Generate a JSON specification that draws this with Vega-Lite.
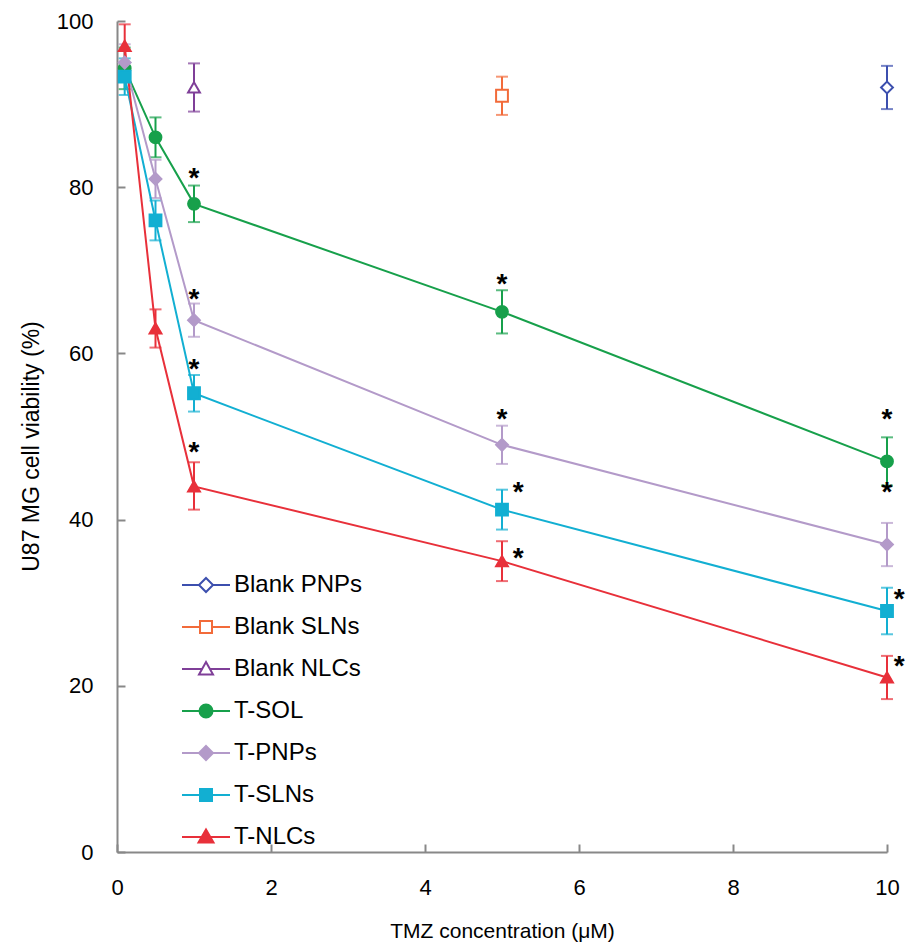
{
  "$schema": "https://vega.github.io/schema/vega-lite/v6.json",
  "width": 770,
  "height": 831,
  "autosize": {"type": "none"},
  "padding": {"left": 117, "top": 21, "right": 28, "bottom": 94},
  "background": "white",
  "config": {
    "view": {"stroke": null},
    "font": "Liberation Sans",
    "axis": {
      "grid": false,
      "domainColor": "#888888",
      "domainWidth": 2,
      "tickColor": "#888888",
      "tickWidth": 2,
      "tickSize": -8,
      "labelFont": "Liberation Sans",
      "labelFontSize": 22,
      "labelColor": "#000000",
      "labelFlush": false,
      "labelOverlap": false,
      "format": "d",
      "titleFont": "Liberation Sans",
      "titleFontSize": 21,
      "titleFontWeight": "normal",
      "titleColor": "#000000"
    },
    "axisX": {"labelPadding": 33, "titlePadding": 22},
    "axisY": {"labelPadding": 32, "titleFontSize": 23, "titleY": 425, "titleX": -74}
  },
  "datasets": {
    "pts": [
      {"series": "Blank PNPs", "x": 10, "y": 92, "lo": 89.4, "hi": 94.6},
      {"series": "Blank SLNs", "x": 5, "y": 91, "lo": 88.7, "hi": 93.3},
      {"series": "Blank NLCs", "x": 1, "y": 92, "lo": 89.1, "hi": 94.9},
      {"series": "T-SOL", "x": 0.1, "y": 94.3, "lo": 91.8, "hi": 96.8},
      {"series": "T-SOL", "x": 0.5, "y": 86, "lo": 83.6, "hi": 88.4},
      {"series": "T-SOL", "x": 1, "y": 78, "lo": 75.8, "hi": 80.2},
      {"series": "T-SOL", "x": 5, "y": 65, "lo": 62.4, "hi": 67.6},
      {"series": "T-SOL", "x": 10, "y": 47, "lo": 44.1, "hi": 49.9},
      {"series": "T-PNPs", "x": 0.1, "y": 95, "lo": 92.8, "hi": 97.2},
      {"series": "T-PNPs", "x": 0.5, "y": 81, "lo": 78.7, "hi": 83.3},
      {"series": "T-PNPs", "x": 1, "y": 64, "lo": 62, "hi": 66},
      {"series": "T-PNPs", "x": 5, "y": 49, "lo": 46.7, "hi": 51.3},
      {"series": "T-PNPs", "x": 10, "y": 37, "lo": 34.4, "hi": 39.6},
      {"series": "T-SLNs", "x": 0.1, "y": 93.3, "lo": 91.1, "hi": 95.5},
      {"series": "T-SLNs", "x": 0.5, "y": 76, "lo": 73.6, "hi": 78.4},
      {"series": "T-SLNs", "x": 1, "y": 55.2, "lo": 53, "hi": 57.4},
      {"series": "T-SLNs", "x": 5, "y": 41.2, "lo": 38.8, "hi": 43.6},
      {"series": "T-SLNs", "x": 10, "y": 29, "lo": 26.2, "hi": 31.8},
      {"series": "T-NLCs", "x": 0.1, "y": 97, "lo": 94.4, "hi": 99.6},
      {"series": "T-NLCs", "x": 0.5, "y": 63, "lo": 60.7, "hi": 65.3},
      {"series": "T-NLCs", "x": 1, "y": 44, "lo": 41.2, "hi": 46.9},
      {"series": "T-NLCs", "x": 5, "y": 35, "lo": 32.6, "hi": 37.4},
      {"series": "T-NLCs", "x": 10, "y": 21, "lo": 18.4, "hi": 23.6}
    ],
    "stars": [
      {"x": 1, "y": 81.8},
      {"x": 1, "y": 67.3},
      {"x": 1, "y": 58.8},
      {"x": 1, "y": 48.9},
      {"x": 5, "y": 69.1},
      {"x": 5, "y": 52.8},
      {"x": 5.21, "y": 44},
      {"x": 5.21, "y": 36.1},
      {"x": 10, "y": 52.8},
      {"x": 10, "y": 44},
      {"x": 10.16, "y": 31.2},
      {"x": 10.16, "y": 23.1}
    ]
  },
  "layer": [
    {
      "data": {"name": "pts"},
      "mark": {"type": "errorbar", "ticks": true, "size": 12, "thickness": 2},
      "encoding": {
        "x": {"field": "x", "type": "quantitative", "scale": {"domain": [0, 10]}, "title": "TMZ concentration (μM)", "axis": {"values": [0, 2, 4, 6, 8, 10]}},
        "y": {"field": "lo", "type": "quantitative", "scale": {"domain": [0, 100]}, "title": "U87 MG cell viability (%)", "axis": {"values": [0, 20, 40, 60, 80, 100]}},
        "y2": {"field": "hi"},
        "color": {"field": "series", "type": "nominal",
          "scale": {"domain": ["Blank PNPs", "Blank SLNs", "Blank NLCs", "T-SOL", "T-PNPs", "T-SLNs", "T-NLCs"],
                    "range": ["#3c4fae", "#f26b3a", "#7f3f98", "#17a04b", "#b39ac9", "#12afd2", "#e8303a"]},
          "legend": null}
      }
    },
    {
      "data": {"name": "pts"},
      "transform": [{"filter": {"field": "series", "oneOf": ["T-SOL", "T-PNPs", "T-SLNs", "T-NLCs"]}}],
      "mark": {"type": "line", "strokeWidth": 2},
      "encoding": {
        "x": {"field": "x", "type": "quantitative", "title": "TMZ concentration (μM)"},
        "y": {"field": "y", "type": "quantitative", "title": "U87 MG cell viability (%)"},
        "color": {"field": "series", "type": "nominal",
          "scale": {"domain": ["Blank PNPs", "Blank SLNs", "Blank NLCs", "T-SOL", "T-PNPs", "T-SLNs", "T-NLCs"],
                    "range": ["#3c4fae", "#f26b3a", "#7f3f98", "#17a04b", "#b39ac9", "#12afd2", "#e8303a"]},
          "legend": null}
      }
    },
    {
      "data": {"name": "pts"},
      "mark": {"type": "point", "filled": true, "opacity": 1, "strokeWidth": 2, "size": 140},
      "encoding": {
        "x": {"field": "x", "type": "quantitative", "title": "TMZ concentration (μM)"},
        "y": {"field": "y", "type": "quantitative", "title": "U87 MG cell viability (%)"},
        "fill": {"field": "series", "type": "nominal",
          "scale": {"domain": ["Blank PNPs", "Blank SLNs", "Blank NLCs", "T-SOL", "T-PNPs", "T-SLNs", "T-NLCs"],
                    "range": ["#ffffff", "#ffffff", "#ffffff", "#17a04b", "#b39ac9", "#12afd2", "#e8303a"]},
          "legend": null},
        "stroke": {"field": "series", "type": "nominal",
          "scale": {"domain": ["Blank PNPs", "Blank SLNs", "Blank NLCs", "T-SOL", "T-PNPs", "T-SLNs", "T-NLCs"],
                    "range": ["#3c4fae", "#f26b3a", "#7f3f98", "#17a04b", "#b39ac9", "#12afd2", "#e8303a"]},
          "legend": null},
        "shape": {"field": "series", "type": "nominal",
          "scale": {"domain": ["Blank PNPs", "Blank SLNs", "Blank NLCs", "T-SOL", "T-PNPs", "T-SLNs", "T-NLCs"],
                    "range": ["diamond", "square", "triangle-up", "circle", "diamond", "square", "triangle-up"]},
          "legend": null}
      }
    },
    {
      "data": {"name": "pts"},
      "mark": {"type": "point", "filled": true, "opacity": 0, "strokeWidth": 2, "size": 400},
      "encoding": {
        "x": {"field": "x", "type": "quantitative", "title": "TMZ concentration (μM)"},
        "y": {"field": "y", "type": "quantitative", "title": "U87 MG cell viability (%)"},
        "fill": {"field": "series", "type": "nominal",
          "scale": {"domain": ["Blank PNPs", "Blank SLNs", "Blank NLCs", "T-SOL", "T-PNPs", "T-SLNs", "T-NLCs"],
                    "range": ["#ffffff", "#ffffff", "#ffffff", "#17a04b", "#b39ac9", "#12afd2", "#e8303a"]},
          "legend": {"title": null, "orient": "none", "legendX": 77, "legendY": 552, "padding": 0, "symbolSize": 400, "symbolStrokeWidth": 2, "symbolOpacity": 1, "labelFont": "Liberation Sans", "labelFontSize": 24, "labelColor": "#000000", "labelOffset": 16, "rowPadding": 18}},
        "stroke": {"field": "series", "type": "nominal",
          "scale": {"domain": ["Blank PNPs", "Blank SLNs", "Blank NLCs", "T-SOL", "T-PNPs", "T-SLNs", "T-NLCs"],
                    "range": ["#3c4fae", "#f26b3a", "#7f3f98", "#17a04b", "#b39ac9", "#12afd2", "#e8303a"]},
          "legend": {"title": null, "orient": "none", "legendX": 77, "legendY": 552, "padding": 0, "symbolSize": 400, "symbolStrokeWidth": 2, "symbolOpacity": 1, "labelFont": "Liberation Sans", "labelFontSize": 24, "labelColor": "#000000", "labelOffset": 16, "rowPadding": 18}},
        "shape": {"field": "series", "type": "nominal",
          "scale": {"domain": ["Blank PNPs", "Blank SLNs", "Blank NLCs", "T-SOL", "T-PNPs", "T-SLNs", "T-NLCs"],
                    "range": [
                      "M-2.4,0H-0.7M0.7,0H2.4M0,-0.7L0.7,0L0,0.7L-0.7,0Z",
                      "M-2.4,0H-0.6M0.6,0H2.4M-0.6,-0.6H0.6V0.6H-0.6Z",
                      "M-2.4,0H-0.39M0.39,0H2.4M0,-0.7L0.7,0.55H-0.7Z",
                      "M-2.4,0H2.4M0.65,0A0.65,0.65 0 1,1 -0.65,0A0.65,0.65 0 1,1 0.65,0Z",
                      "M-2.4,0H2.4M0,-0.7L0.7,0L0,0.7L-0.7,0Z",
                      "M-2.4,0H2.4M-0.6,-0.6H0.6V0.6H-0.6Z",
                      "M-2.4,0H2.4M0,-0.75L0.75,0.55H-0.75Z"
                    ]},
          "legend": {"title": null, "orient": "none", "legendX": 77, "legendY": 552, "padding": 0, "symbolSize": 400, "symbolStrokeWidth": 2, "symbolOpacity": 1, "labelFont": "Liberation Sans", "labelFontSize": 24, "labelColor": "#000000", "labelOffset": 16, "rowPadding": 18}}
      }
    },
    {
      "data": {"name": "stars"},
      "mark": {"type": "text", "text": "*", "fontSize": 28, "fontWeight": "bold", "font": "Liberation Sans", "color": "#000000", "align": "center", "baseline": "middle", "dy": 7},
      "encoding": {
        "x": {"field": "x", "type": "quantitative", "title": "TMZ concentration (μM)"},
        "y": {"field": "y", "type": "quantitative", "title": "U87 MG cell viability (%)"}
      }
    }
  ],
  "resolve": {"scale": {"color": "independent", "fill": "independent", "stroke": "independent", "shape": "independent"}}
}
